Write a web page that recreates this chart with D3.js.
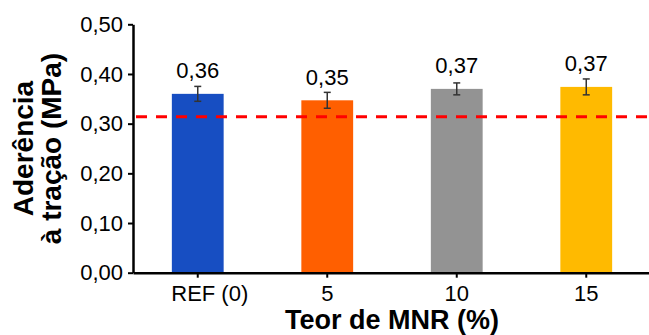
<!DOCTYPE html>
<html>
<head>
<meta charset="utf-8">
<script src="https://cdn.jsdelivr.net/npm/d3@7"></script>
<style>
  html, body { margin: 0; padding: 0; background: #fff; }
  svg { display: block; }
  text { font-family: "Liberation Sans", Arial, sans-serif; }
</style>
</head>
<body>
<svg id="chart" width="649" height="335"></svg>
<script>
// ---- data ----
const categories = ["REF (0)", "5", "10", "15"];
const values = [0.360, 0.347, 0.370, 0.374];
const errors = [0.015, 0.016, 0.012, 0.016];
const valueLabels = ["0,36", "0,35", "0,37", "0,37"];
const barColors = ["#174EC2", "#FF5F00", "#939393", "#FFBA00"];
const referenceValue = 0.314;
const yTicks = [0, 0.1, 0.2, 0.3, 0.4, 0.5];
const yTitleLines = ["Aderência", "à tração (MPa)"];
const xTitle = "Teor de MNR (%)";

// ---- layout ----
const W = 649, H = 335;
const mLeft = 133, mRight = 651, mTop = 24.3, mBottom = 272.7;

const svg = d3.select("#chart");

const x = d3.scaleBand().domain(categories).range([mLeft, mRight]).paddingInner(0.6).paddingOuter(0.3);
const y = d3.scaleLinear().domain([0, 0.5]).range([mBottom, mTop]);

const fmt = d => d3.format(".2f")(d).replace(".", ",");

// bars
svg.append("g").selectAll("rect").data(categories).join("rect")
  .attr("x", d => x(d))
  .attr("width", x.bandwidth())
  .attr("y", (d, i) => y(values[i]))
  .attr("height", (d, i) => y(0) - y(values[i]))
  .attr("fill", (d, i) => barColors[i]);

// reference dashed line
svg.append("line")
  .attr("x1", mLeft + 3).attr("x2", W)
  .attr("y1", y(referenceValue)).attr("y2", y(referenceValue))
  .attr("stroke", "#FF0000").attr("stroke-width", 3)
  .attr("stroke-dasharray", "11,9");

// error bars
const eg = svg.append("g").attr("stroke", "#333").attr("stroke-width", 1.5).attr("fill", "none");
categories.forEach((c, i) => {
  const cx = x(c) + x.bandwidth() / 2;
  const y1 = y(values[i] + errors[i]), y2 = y(values[i] - errors[i]);
  eg.append("line").attr("x1", cx).attr("x2", cx).attr("y1", y1).attr("y2", y2);
  eg.append("line").attr("x1", cx - 3.5).attr("x2", cx + 3.5).attr("y1", y1).attr("y2", y1);
  eg.append("line").attr("x1", cx - 3.5).attr("x2", cx + 3.5).attr("y1", y2).attr("y2", y2);
});

// value labels
svg.append("g").selectAll("text").data(categories).join("text")
  .attr("x", d => x(d) + x.bandwidth() / 2)
  .attr("y", (d, i) => y(values[i]) - 15.5)
  .attr("text-anchor", "middle")
  .attr("font-size", 22)
  .attr("fill", "#000")
  .text((d, i) => valueLabels[i]);

// y axis
const yAxis = svg.append("g")
  .attr("transform", `translate(${mLeft},0)`)
  .call(d3.axisLeft(y).tickValues(yTicks).tickFormat(fmt).tickSize(5).tickSizeOuter(0).tickPadding(5));
yAxis.select(".domain").attr("stroke", "#000").attr("stroke-width", 2.5);
yAxis.selectAll(".tick line").attr("stroke", "#000").attr("stroke-width", 2);
yAxis.selectAll(".tick text").attr("font-size", 22).attr("fill", "#000").style("font-family", "Liberation Sans, Arial, sans-serif");

// x axis
const xAxis = svg.append("g")
  .attr("transform", `translate(0,${mBottom})`)
  .call(d3.axisBottom(x).tickSize(5).tickSizeOuter(0).tickPadding(8));
xAxis.select(".domain").attr("stroke", "#000").attr("stroke-width", 2.5);
xAxis.selectAll(".tick line").attr("stroke", "#000").attr("stroke-width", 2);
xAxis.selectAll(".tick text").attr("font-size", 22).attr("fill", "#000").style("font-family", "Liberation Sans, Arial, sans-serif");
xAxis.selectAll(".tick text").filter((d, i) => i === 0).attr("dx", 12);

// axis titles
const yt = svg.append("text")
  .attr("transform", `translate(0,${(mTop + mBottom) / 2}) rotate(-90)`)
  .attr("text-anchor", "middle")
  .attr("font-size", 28).attr("font-weight", "bold").attr("fill", "#000");
yTitleLines.forEach((t, i) => {
  yt.append("tspan").attr("x", 0).attr("y", 33 + i * 28).text(t);
});

svg.append("text")
  .attr("x", (mLeft + mRight) / 2).attr("y", 329)
  .attr("text-anchor", "middle")
  .attr("font-size", 27).attr("font-weight", "bold").attr("fill", "#000")
  .text(xTitle);
</script>
</body>
</html>
